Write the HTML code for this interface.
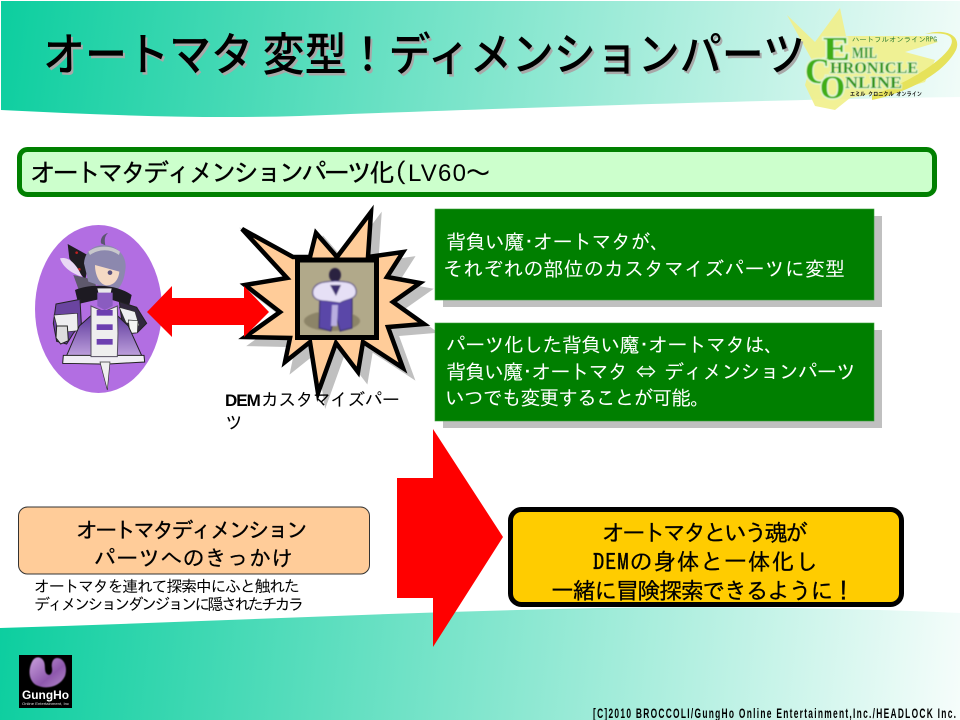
<!DOCTYPE html>
<html lang="ja"><head><meta charset="utf-8"><title>オートマタ 変型</title>
<style>html,body{margin:0;padding:0;background:#fff;width:960px;height:720px;overflow:hidden}svg{display:block}
text{font-family:"Liberation Sans","IPAGothic","Noto Sans CJK JP",sans-serif}
.j{font-family:"IPAGothic","Noto Sans CJK JP",sans-serif}
.n{font-family:"Noto Sans CJK JP","IPAGothic",sans-serif}
.s{font-family:"Liberation Serif",serif;font-weight:bold;paint-order:stroke}
</style></head><body>
<svg width="960" height="720" viewBox="0 0 960 720" xmlns="http://www.w3.org/2000/svg">
<defs>
<linearGradient id="g1" gradientUnits="userSpaceOnUse" x1="0" y1="0" x2="960" y2="130"><stop offset="0" stop-color="#0cce9f"/><stop offset="1" stop-color="#f2fcf9"/></linearGradient>
<linearGradient id="g2" gradientUnits="userSpaceOnUse" x1="0" y1="610" x2="960" y2="720"><stop offset="0" stop-color="#0cce9f"/><stop offset="1" stop-color="#f6fdfb"/></linearGradient>
<filter id="b1"><feGaussianBlur stdDeviation="0.7"/></filter>
<filter id="b2"><feGaussianBlur stdDeviation="0.4"/></filter>
<linearGradient id="dr" x1="0" y1="0" x2="0" y2="1"><stop offset="0" stop-color="#5e3a9c"/><stop offset="1" stop-color="#cfb2e8"/></linearGradient>
<linearGradient id="bl" x1="0" y1="0" x2="1" y2="1"><stop offset="0" stop-color="#c9a0dc"/><stop offset=".6" stop-color="#8e58ad"/><stop offset="1" stop-color="#b58acb"/></linearGradient>
</defs>
<rect width="960" height="720" fill="#fff"/>
<path d="M1 1H960V97C800 99 500 108 300 116C200 119 100 115 1 110Z" fill="url(#g1)"/>
<path d="M0 628C200 622 400 612 600 608C720 606 850 608 960 613V720H0Z" fill="url(#g2)"/>

<!-- logo -->
<g>
<path d="M787 15L815 42L840 8L846 36L930 36L938 42L905 52L935 60L925 82L905 88L850 98L835 110L815 106L805 85L812 60Z" fill="#f1f08a" opacity=".9"/>
<path d="M872 95C905 85 945 60 951 45C955 35 945 32 925 34C945 28 962 35 956 50C945 72 910 92 872 100Z" fill="#e6e25a"/>
<g filter="url(#b2)">
<text class="s" x="823" y="60" font-size="34" fill="#3fae18" stroke="#e4f7d4" stroke-width="3" textLength="27" lengthAdjust="spacingAndGlyphs">E</text>
<text class="s" x="852" y="58" font-size="16" fill="#2f9412" stroke="#e4f7d4" stroke-width="2" textLength="25" lengthAdjust="spacingAndGlyphs">MIL</text>
<text class="s" x="805" y="83" font-size="36" fill="#3fae18" stroke="#e4f7d4" stroke-width="3" textLength="25" lengthAdjust="spacingAndGlyphs">C</text>
<text class="s" x="830" y="73" font-size="16" fill="#2f9412" stroke="#e4f7d4" stroke-width="2" textLength="88" lengthAdjust="spacingAndGlyphs">HRONICLE</text>
<text class="s" x="820" y="98" font-size="33" fill="#3fae18" stroke="#e4f7d4" stroke-width="3" textLength="25" lengthAdjust="spacingAndGlyphs">O</text>
<text class="s" x="845" y="88" font-size="17" fill="#2f9412" stroke="#e4f7d4" stroke-width="2" textLength="57" lengthAdjust="spacingAndGlyphs">NLINE</text>
</g>
<text class="j" x="852" y="42" font-size="7" fill="#2f7d33" textLength="85" lengthAdjust="spacingAndGlyphs">ハートフルオンラインRPG</text>
<text class="j" x="850" y="96" font-size="6" font-weight="bold" fill="#111" textLength="72" lengthAdjust="spacingAndGlyphs">エミル クロニクル オンライン</text>
</g>

<!-- title -->
<g transform="translate(0 -6) scale(1 1.08)">
<text class="n" x="45" y="73" font-size="42" font-weight="500" fill="#a8a8a8" textLength="762" lengthAdjust="spacing">オートマタ 変型！ディメンションパーツ</text>
<text class="n" x="43" y="71" font-size="42" font-weight="500" fill="#000" textLength="762" lengthAdjust="spacing">オートマタ 変型！ディメンションパーツ</text>
</g>

<!-- header bar -->
<rect x="19.500" y="149.500" width="915" height="45" rx="8" fill="#ccffcc" stroke="#008000" stroke-width="5"/>
<text class="j" x="30" y="182" font-size="26" fill="#000" stroke="#000" stroke-width=".25" textLength="365" lengthAdjust="spacing">オートマタディメンションパーツ化</text>
<text class="j" x="381" y="182" font-size="26" fill="#000" stroke="#000" stroke-width=".25">（</text>
<text x="408" y="181" font-size="24" fill="#000" textLength="58" lengthAdjust="spacing">LV60</text>
<text class="j" x="465" y="182" font-size="26" fill="#000" stroke="#000" stroke-width=".25">～</text>

<!-- ellipse + character -->
<ellipse cx="98.500" cy="309" rx="63.500" ry="84" fill="#b26ee2"/>
<g transform="translate(20 200) scale(.3333)">
 <path d="M243 130C240 115 250 102 264 99C252 110 254 122 256 136Z" fill="#5b5670"/>
 <path d="M143 132L208 168L196 240L165 200L148 175Z" fill="#1f1c22"/>
 <circle cx="170" cy="158" r="4" fill="#c02020"/><circle cx="178" cy="208" r="4" fill="#c02020"/>
 <path d="M120 175C140 170 165 182 186 230C160 222 130 205 120 175Z" fill="#e9d8f4"/>
 <path d="M160 225L225 240L230 275L180 280Z" fill="#5e586c"/>
 <path d="M192 190C195 150 225 132 262 136C300 142 322 175 316 210C312 245 298 268 285 272L255 262L205 245Z" fill="#8c88ae"/>
 <path d="M205 155C230 135 275 135 300 155L297 165C270 145 235 147 210 165Z" fill="#c8c8cc"/>
 <path d="M225 195L298 215C296 240 280 258 258 256C238 252 225 225 225 195Z" fill="#f4d9c4"/>
 <circle cx="270" cy="218" r="7" fill="#57507e"/>
 <path d="M165 270C210 250 290 252 335 285L328 315L270 298L235 298L175 312Z" fill="#1d1a22"/>
 <path d="M232 265L275 265L270 290L238 290Z" fill="#e8e8ea"/>
 <path d="M108 312L180 298L184 372L160 400L140 432L110 424L100 370Z" fill="#6a44a0" stroke="#222" stroke-width="3"/>
 <path d="M102 345L172 340L174 392L116 398Z" fill="#eeeef0" stroke="#333" stroke-width="2"/>
 <path d="M110 378L142 378L145 422L122 432L108 414Z" fill="#ddd" stroke="#222" stroke-width="3"/>
 <path d="M298 305L350 322L380 370L352 398L325 402L305 360Z" fill="#32283f" stroke="#222" stroke-width="3"/>
 <path d="M298 322L345 335L358 378L318 368Z" fill="#eeeef0" stroke="#333" stroke-width="2"/>
 <path d="M325 360L354 362L352 398L330 400Z" fill="#f4f4f4" stroke="#333" stroke-width="2"/>
 <path d="M178 378L215 345L290 345L325 378L372 482L130 490Z" fill="url(#dr)" stroke="#222" stroke-width="3"/>
 <path d="M130 466L372 466L374 486L265 492L240 492L128 490Z" fill="#f0eef4" stroke="#222" stroke-width="3"/>
 <path d="M213 318L252 335L292 318L294 400L292 470L213 470Z" fill="#eee" stroke="#554f60" stroke-width="3"/>
 <path d="M232 278L278 278L278 318L254 330L232 318Z" fill="#8a5cc0"/>
 <rect x="230" y="330" width="48" height="17" fill="#6c3fb0"/>
 <rect x="230" y="373" width="48" height="17" fill="#6c3fb0"/>
 <rect x="230" y="417" width="48" height="17" fill="#6c3fb0"/>
 <path d="M240 486L262 570L270 486Z" fill="#efefef" stroke="#333" stroke-width="2"/>
</g>

<!-- burst -->
<path transform="translate(8 7)" d="M242 229L293 257L310 257L316 233L337 257L371 212L368 257L403 252L387 277L420 283L393 302L424 324L388 327L403 368L363 342L358 372L336 343L318 393L310 342L285 362L290 338L245 337L280 312L245 285L287 278Z" fill="#c0c0c0" stroke="#c0c0c0" stroke-width="4.500" stroke-miterlimit="12"/>
<path d="M242 229L293 257L310 257L316 233L337 257L371 212L368 257L403 252L387 277L420 283L393 302L424 324L388 327L403 368L363 342L358 372L336 343L318 393L310 342L285 362L290 338L245 337L280 312L245 285L287 278Z" fill="#ffcc99" stroke="#000" stroke-width="4.500" stroke-miterlimit="6"/>
<rect x="297.500" y="260" width="79" height="77.500" fill="#b1a98a" stroke="#000" stroke-width="5"/>
<g filter="url(#b1)">
 <ellipse cx="332" cy="321" rx="28" ry="10" fill="#8c8468"/>
 <ellipse cx="335" cy="275" rx="6" ry="7" fill="#2b2240"/>
 <path d="M320 298L352 298L352 328L340 331L335 312L331 331L319 328Z" fill="#5a46a8" stroke="#2e2660" stroke-width="1"/>
 <path d="M313 290C316 281 328 282 335 281C345 282 354 281 356 290C358 300 345 299 340 303L333 302L325 301C318 301 311 298 313 290Z" fill="#e6e0f6" stroke="#4a3a88" stroke-width="1"/>
 <path d="M330 285L341 285L336 296Z" fill="#3d2f70"/>
 <path d="M332 305L338 305L337 326L331 326Z" fill="#b9aee0"/>
</g>

<!-- double arrow -->
<path d="M147 312L172 286V298H244V286L269 312L244 337V325H172V337Z" fill="#ff0000"/>

<!-- DEM label -->
<text x="225" y="406" font-size="17" font-weight="bold" letter-spacing="-1" fill="#000">DEM</text>
<text class="j" x="261" y="406" font-size="18" fill="#000" textLength="139" lengthAdjust="spacing">カスタマイズパー</text>
<text class="j" x="225" y="429" font-size="18" fill="#000">ツ</text>

<!-- green boxes -->
<rect x="443" y="216" width="439" height="91" fill="#c0c0c0"/>
<rect x="435" y="209" width="439" height="91" fill="#007f00" stroke="#3aa03a" stroke-width=".6"/>
<text class="j" x="446" y="249" font-size="20" fill="#fff" textLength="224" lengthAdjust="spacing">背負い魔･オートマタが、</text>
<text class="j" x="443" y="276" font-size="20" fill="#fff" textLength="402" lengthAdjust="spacing">それぞれの部位のカスタマイズパーツに変型</text>
<rect x="443" y="330" width="439" height="98" fill="#c0c0c0"/>
<rect x="435" y="323" width="439" height="98" fill="#007f00" stroke="#3aa03a" stroke-width=".6"/>
<text class="j" x="446" y="352" font-size="20" fill="#fff" textLength="338" lengthAdjust="spacing">パーツ化した背負い魔･オートマタは、</text>
<text class="j" x="446" y="379" font-size="20" fill="#fff" textLength="410" lengthAdjust="spacing">背負い魔･オートマタ  ⇔  ディメンションパーツ</text>
<text class="j" x="445" y="405" font-size="20" fill="#fff" textLength="265" lengthAdjust="spacing">いつでも変更することが可能。</text>

<!-- peach box -->
<rect x="18.500" y="507" width="351" height="67" rx="9" fill="#ffcc99" stroke="#333" stroke-width="1"/>
<text class="j" x="76" y="538" font-size="22" fill="#000" stroke="#000" stroke-width=".25" textLength="232" lengthAdjust="spacing">オートマタディメンション</text>
<text class="j" x="94" y="566" font-size="22" fill="#000" stroke="#000" stroke-width=".25" textLength="199" lengthAdjust="spacing">パーツへのきっかけ</text>
<text class="j" x="34" y="592" font-size="16" fill="#000" textLength="266" lengthAdjust="spacing">オートマタを連れて探索中にふと触れた</text>
<text class="j" x="34" y="610" font-size="16" fill="#000" textLength="270" lengthAdjust="spacing">ディメンションダンジョンに隠されたチカラ</text>

<!-- big arrow -->
<path d="M397 478H433V429L503 537L433 647V598H397Z" fill="#ff0000"/>

<!-- yellow box -->
<rect x="510.500" y="509.500" width="391" height="95" rx="11" fill="#ffcc00" stroke="#000" stroke-width="5"/>
<text class="j" x="602" y="541" font-size="23" fill="#000" stroke="#000" stroke-width=".25" textLength="206" lengthAdjust="spacing">オートマタという魂が</text>
<text class="j" x="593" y="570" font-size="23" fill="#000" stroke="#000" stroke-width=".25" textLength="225" lengthAdjust="spacing">DEMの身体と一体化し</text>
<text class="j" x="551" y="599" font-size="23" fill="#000" stroke="#000" stroke-width=".25" textLength="304" lengthAdjust="spacing">一緒に冒険探索できるように！</text>

<!-- GungHo -->
<rect x="19" y="655" width="53" height="53" fill="#000"/>
<path d="M33 660C28 668 28 680 36 685C46 690 60 687 65 676C68 667 64 658 57 658C53 658 51 663 52 668C53 674 49 677 46 673C44 669 46 664 43 660C41 657 36 656 33 660Z" fill="url(#bl)" filter="url(#b2)"/>
<text x="22" y="699" font-size="12" font-weight="bold" fill="#fff" textLength="47" lengthAdjust="spacingAndGlyphs">GungHo</text>
<text x="22" y="705" font-size="4" fill="#ddd" textLength="47" lengthAdjust="spacingAndGlyphs">Online Entertainment, Inc</text>

<!-- copyright -->
<g transform="translate(593 718) scale(.6 1)">
<text x="0" y="0" font-size="14" font-weight="bold" fill="#000" textLength="605" lengthAdjust="spacing">[C]2010 BROCCOLI/GungHo Online Entertainment,Inc./HEADLOCK Inc.</text>
</g>
</svg>
</body></html>
